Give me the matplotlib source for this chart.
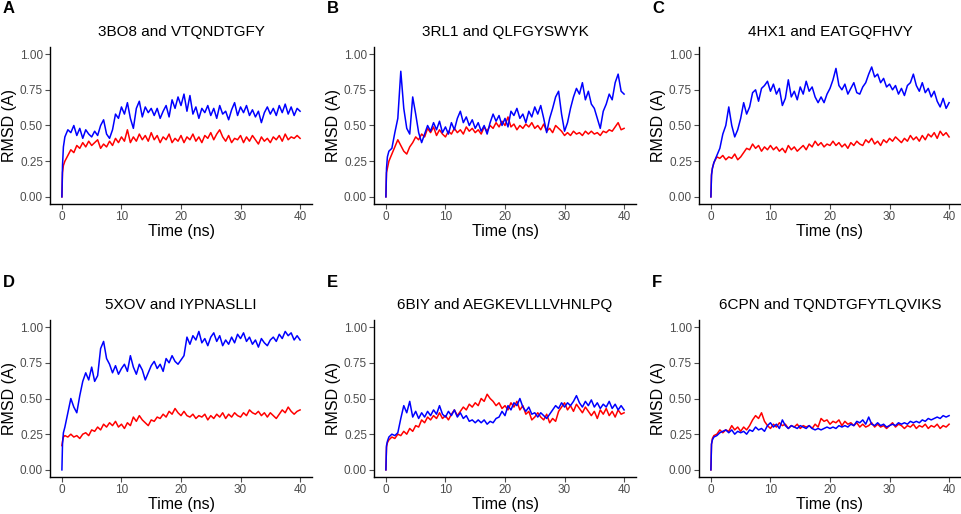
import numpy as np
import matplotlib
matplotlib.use("Agg")
import matplotlib.pyplot as plt

plt.rcParams["font.family"] = ["Liberation Sans", "DejaVu Sans"]

# sampling times (ns): a few early points, then every 0.5 ns
time_ns = np.concatenate([[0.0, 0.1, 0.25], np.arange(0.5, 40.01, 0.5)])

panel_letters = ["A", "B", "C", "D", "E", "F"]
panel_titles = ["3BO8 and VTQNDTGFY", "3RL1 and QLFGYSWYK", "4HX1 and EATGQFHVY",
                "5XOV and IYPNASLLI", "6BIY and AEGKEVLLLVHNLPQ", "6CPN and TQNDTGFYTLQVIKS"]
x_ticks = [0, 10, 20, 30, 40]
y_ticks = [0.00, 0.25, 0.50, 0.75, 1.00]

a_red = [0.00, 0.17, 0.22,
         0.25, 0.29, 0.33, 0.31, 0.36, 0.34, 0.38, 0.35, 0.39, 0.36,
         0.38, 0.40, 0.34, 0.37, 0.35, 0.39, 0.36, 0.41, 0.38, 0.42,
         0.39, 0.47, 0.38, 0.42, 0.39, 0.44, 0.40, 0.43, 0.39, 0.45,
         0.40, 0.43, 0.38, 0.42, 0.40, 0.44, 0.38, 0.41, 0.39, 0.43,
         0.38, 0.42, 0.40, 0.44, 0.39, 0.42, 0.38, 0.43, 0.41, 0.45,
         0.40, 0.44, 0.47, 0.42, 0.39, 0.43, 0.38, 0.41, 0.40, 0.43,
         0.38, 0.42, 0.39, 0.43, 0.40, 0.37, 0.42, 0.39, 0.41, 0.38,
         0.42, 0.40, 0.43, 0.39, 0.44, 0.40, 0.42, 0.41, 0.43, 0.41]
a_blue = [0.00, 0.22, 0.35,
          0.42, 0.47, 0.45, 0.50, 0.43, 0.48, 0.41, 0.47, 0.44, 0.42,
          0.46, 0.43, 0.50, 0.54, 0.44, 0.41, 0.47, 0.58, 0.55, 0.63,
          0.58, 0.66, 0.55, 0.48, 0.62, 0.67, 0.56, 0.63, 0.59, 0.62,
          0.57, 0.62, 0.55, 0.60, 0.64, 0.56, 0.68, 0.62, 0.70, 0.64,
          0.72, 0.60, 0.71, 0.58, 0.63, 0.55, 0.62, 0.59, 0.64, 0.57,
          0.62, 0.55, 0.64, 0.58, 0.60, 0.54, 0.61, 0.66, 0.57, 0.63,
          0.59, 0.64, 0.57, 0.61, 0.56, 0.60, 0.52, 0.59, 0.63, 0.58,
          0.62, 0.57, 0.64, 0.59, 0.65, 0.58, 0.63, 0.57, 0.62, 0.60]

b_red = [0.00, 0.17, 0.20,
         0.25, 0.30, 0.35, 0.40, 0.36, 0.32, 0.30, 0.35, 0.38, 0.42,
         0.40, 0.44, 0.42, 0.48, 0.45, 0.49, 0.43, 0.47, 0.44, 0.42,
         0.46, 0.44, 0.48, 0.45, 0.47, 0.44, 0.49, 0.46, 0.48, 0.45,
         0.47, 0.44, 0.49, 0.46, 0.50, 0.48, 0.52, 0.49, 0.53, 0.50,
         0.56, 0.49, 0.51, 0.47, 0.50, 0.48, 0.51, 0.49, 0.52, 0.48,
         0.50, 0.47, 0.51, 0.46, 0.48, 0.45, 0.50, 0.48, 0.46, 0.43,
         0.45, 0.43, 0.46, 0.44, 0.45, 0.43, 0.46, 0.44, 0.46, 0.44,
         0.45, 0.43, 0.46, 0.45, 0.47, 0.46, 0.49, 0.52, 0.47, 0.48]
b_blue = [0.00, 0.20, 0.28,
          0.32, 0.34, 0.45, 0.55, 0.88, 0.62, 0.48, 0.44, 0.70, 0.58,
          0.45, 0.38, 0.44, 0.50, 0.46, 0.52, 0.47, 0.53, 0.45, 0.49,
          0.44, 0.52, 0.47, 0.55, 0.60, 0.52, 0.56, 0.50, 0.54, 0.48,
          0.52, 0.46, 0.50, 0.44, 0.52, 0.58, 0.53, 0.57, 0.50, 0.55,
          0.49, 0.60, 0.57, 0.62, 0.55, 0.58, 0.52, 0.60, 0.56, 0.63,
          0.58, 0.64, 0.55, 0.45, 0.55, 0.62, 0.70, 0.74, 0.58, 0.46,
          0.52, 0.62, 0.70, 0.76, 0.72, 0.80, 0.68, 0.74, 0.65, 0.62,
          0.55, 0.48, 0.60, 0.65, 0.72, 0.68, 0.80, 0.86, 0.74, 0.72]

c_red = [0.00, 0.16, 0.20,
         0.24, 0.28, 0.27, 0.29, 0.26, 0.28, 0.27, 0.30, 0.26, 0.28,
         0.31, 0.34, 0.33, 0.37, 0.34, 0.36, 0.32, 0.35, 0.33, 0.36,
         0.33, 0.35, 0.32, 0.34, 0.31, 0.36, 0.33, 0.35, 0.32, 0.34,
         0.36, 0.33, 0.37, 0.35, 0.39, 0.36, 0.38, 0.35, 0.37, 0.36,
         0.39, 0.36, 0.38, 0.35, 0.37, 0.34, 0.38, 0.36, 0.39, 0.37,
         0.36, 0.40, 0.38, 0.41, 0.37, 0.39, 0.36, 0.40, 0.38, 0.41,
         0.39, 0.42, 0.40, 0.38, 0.41, 0.39, 0.43, 0.40, 0.42, 0.39,
         0.43, 0.40, 0.44, 0.42, 0.45, 0.41, 0.46, 0.43, 0.45, 0.42]
c_blue = [0.00, 0.15, 0.20,
          0.24, 0.29, 0.34, 0.44, 0.50, 0.63, 0.50, 0.42, 0.47, 0.55,
          0.66, 0.58, 0.63, 0.73, 0.75, 0.67, 0.76, 0.78, 0.81, 0.74,
          0.79, 0.72, 0.76, 0.64, 0.69, 0.82, 0.70, 0.74, 0.68, 0.77,
          0.72, 0.81, 0.74, 0.77, 0.70, 0.66, 0.70, 0.66, 0.72, 0.76,
          0.82, 0.90, 0.78, 0.75, 0.79, 0.72, 0.76, 0.80, 0.73, 0.72,
          0.77, 0.80, 0.86, 0.91, 0.84, 0.86, 0.80, 0.83, 0.77, 0.79,
          0.75, 0.78, 0.72, 0.76, 0.71, 0.78, 0.80, 0.86, 0.78, 0.74,
          0.80, 0.73, 0.76, 0.70, 0.74, 0.67, 0.63, 0.69, 0.62, 0.66]

d_red = [0.17, 0.20, 0.23,
         0.24, 0.23, 0.25, 0.23, 0.24, 0.22, 0.25, 0.26, 0.24, 0.28,
         0.27, 0.30, 0.28, 0.32, 0.30, 0.33, 0.31, 0.34, 0.30, 0.32,
         0.29, 0.33, 0.31, 0.37, 0.34, 0.38, 0.35, 0.33, 0.31, 0.35,
         0.34, 0.37, 0.36, 0.39, 0.37, 0.41, 0.39, 0.43, 0.40, 0.38,
         0.41, 0.38, 0.37, 0.39, 0.36, 0.38, 0.37, 0.39, 0.35, 0.38,
         0.36, 0.39, 0.37, 0.40, 0.36, 0.39, 0.37, 0.40, 0.38, 0.37,
         0.40, 0.38, 0.42, 0.40, 0.39, 0.41, 0.38, 0.40, 0.37, 0.40,
         0.38, 0.36, 0.39, 0.42, 0.40, 0.44, 0.41, 0.39, 0.41, 0.42]
d_blue = [0.00, 0.18, 0.26,
          0.30, 0.40, 0.50, 0.44, 0.40, 0.52, 0.62, 0.68, 0.63, 0.72,
          0.62, 0.66, 0.85, 0.90, 0.78, 0.74, 0.68, 0.73, 0.67, 0.71,
          0.74, 0.69, 0.80, 0.72, 0.67, 0.74, 0.70, 0.63, 0.68, 0.73,
          0.76, 0.71, 0.74, 0.69, 0.78, 0.75, 0.80, 0.76, 0.74, 0.77,
          0.80, 0.93, 0.88, 0.94, 0.91, 0.97, 0.89, 0.92, 0.87, 0.93,
          0.96, 0.90, 0.94, 0.87, 0.91, 0.88, 0.93, 0.89, 0.95, 0.92,
          0.96, 0.90, 0.93, 0.88, 0.91, 0.86, 0.92, 0.89, 0.87, 0.91,
          0.93, 0.90, 0.95, 0.92, 0.97, 0.94, 0.96, 0.91, 0.94, 0.91]

e_red = [0.00, 0.16, 0.19,
         0.21, 0.23, 0.22, 0.25, 0.24, 0.27, 0.25, 0.29, 0.27, 0.31,
         0.30, 0.35, 0.33, 0.37, 0.35, 0.38, 0.36, 0.40, 0.36, 0.38,
         0.35, 0.39, 0.42, 0.38, 0.41, 0.44, 0.42, 0.46, 0.44, 0.47,
         0.45, 0.50, 0.48, 0.53, 0.50, 0.48, 0.45, 0.47, 0.43, 0.45,
         0.42, 0.47, 0.44, 0.48, 0.42, 0.45, 0.39, 0.41, 0.35, 0.37,
         0.40, 0.37, 0.35, 0.39, 0.33, 0.36, 0.34, 0.41, 0.44, 0.47,
         0.42, 0.45, 0.41, 0.46, 0.43, 0.40, 0.44, 0.41, 0.38, 0.41,
         0.36, 0.42, 0.39, 0.43, 0.38, 0.41, 0.37, 0.42, 0.39, 0.40]
e_blue = [0.00, 0.17, 0.20,
          0.23, 0.25, 0.24, 0.26, 0.36, 0.45, 0.40, 0.48, 0.37, 0.41,
          0.36, 0.40, 0.37, 0.41, 0.38, 0.42, 0.39, 0.45, 0.39, 0.37,
          0.41, 0.38, 0.42, 0.37, 0.40, 0.36, 0.38, 0.34, 0.35, 0.33,
          0.35, 0.33, 0.35, 0.32, 0.34, 0.33, 0.36, 0.37, 0.41, 0.38,
          0.45, 0.42, 0.47, 0.45, 0.50, 0.44, 0.41, 0.44, 0.39, 0.40,
          0.37, 0.40, 0.38, 0.36, 0.39, 0.42, 0.45, 0.43, 0.47, 0.44,
          0.47, 0.45, 0.48, 0.52, 0.47, 0.44, 0.48, 0.45, 0.49, 0.44,
          0.47, 0.43, 0.46, 0.44, 0.48, 0.43, 0.46, 0.42, 0.45, 0.42]

f_red = [0.00, 0.18, 0.22,
         0.24, 0.25, 0.28, 0.26, 0.28, 0.27, 0.31, 0.28, 0.30, 0.27,
         0.30, 0.28, 0.31, 0.35, 0.38, 0.36, 0.40, 0.34, 0.31, 0.29,
         0.32, 0.30, 0.33, 0.31, 0.32, 0.29, 0.31, 0.30, 0.32, 0.29,
         0.31, 0.30, 0.31, 0.29, 0.32, 0.30, 0.36, 0.34, 0.35, 0.32,
         0.34, 0.33, 0.35, 0.31, 0.34, 0.32, 0.33, 0.31, 0.33, 0.30,
         0.32, 0.30, 0.31, 0.33, 0.30, 0.32, 0.30, 0.31, 0.29, 0.31,
         0.33, 0.30, 0.32, 0.31, 0.29, 0.31, 0.30, 0.32, 0.29, 0.31,
         0.30, 0.32, 0.29, 0.31, 0.30, 0.32, 0.29, 0.31, 0.30, 0.32]
f_blue = [0.00, 0.18, 0.21,
          0.23, 0.24, 0.26, 0.27, 0.28, 0.26, 0.28, 0.25, 0.27, 0.26,
          0.27, 0.25, 0.28, 0.27, 0.30, 0.28, 0.29, 0.27, 0.31, 0.33,
          0.30, 0.32, 0.29, 0.35, 0.31, 0.29, 0.31, 0.30, 0.29, 0.31,
          0.30, 0.29, 0.31, 0.29, 0.28, 0.29, 0.28, 0.29, 0.30, 0.29,
          0.30, 0.29, 0.31, 0.30, 0.31, 0.30, 0.32, 0.31, 0.34, 0.33,
          0.35, 0.32, 0.37, 0.32, 0.31, 0.33, 0.31, 0.32, 0.30, 0.31,
          0.32, 0.31, 0.33, 0.32, 0.33, 0.32, 0.34, 0.33, 0.34, 0.33,
          0.35, 0.34, 0.36, 0.35, 0.36, 0.37, 0.36, 0.38, 0.37, 0.38]

red_series = [a_red, b_red, c_red, d_red, e_red, f_red]
blue_series = [a_blue, b_blue, c_blue, d_blue, e_blue, f_blue]

W, H = 962, 514
fig = plt.figure(figsize=(W / 100, H / 100), dpi=100)

lefts = [50, 374, 699]
tops = [47, 320]
pw, ph = 262, 157

for i in range(6):
    row, col = divmod(i, 3)
    x0, y0 = lefts[col], tops[row]
    ax = fig.add_axes([x0 / W, 1 - (y0 + ph) / H, pw / W, ph / H])
    ax.plot(time_ns, red_series[i], color="#FF0000", lw=1.1)
    ax.plot(time_ns, blue_series[i], color="#0000FF", lw=1.1)
    ax.set_xlim(-2, 42)
    ax.set_ylim(-0.05, 1.05)
    ax.set_xticks(x_ticks)
    ax.set_yticks(y_ticks)
    ax.set_yticklabels([f"{v:.2f}" for v in y_ticks])
    for side in ["top", "right"]:
        ax.spines[side].set_visible(False)
    for side in ["left", "bottom"]:
        ax.spines[side].set_linewidth(1.0)
    ax.tick_params(labelsize=8.5, colors="#4d4d4d", length=3.5, width=0.8, pad=1.5)
    ax.set_xlabel("Time (ns)", fontsize=11.5, labelpad=1)
    ax.set_ylabel("RMSD (A)", fontsize=11.5, labelpad=2)
    ax.set_title(panel_titles[i], fontsize=11, pad=8)
    fig.text((x0 - 47) / W, 1 - (1 + row * 274) / H,
             panel_letters[i], fontsize=12, fontweight="bold", va="top", ha="left")

fig.savefig("out.png", dpi=100)
